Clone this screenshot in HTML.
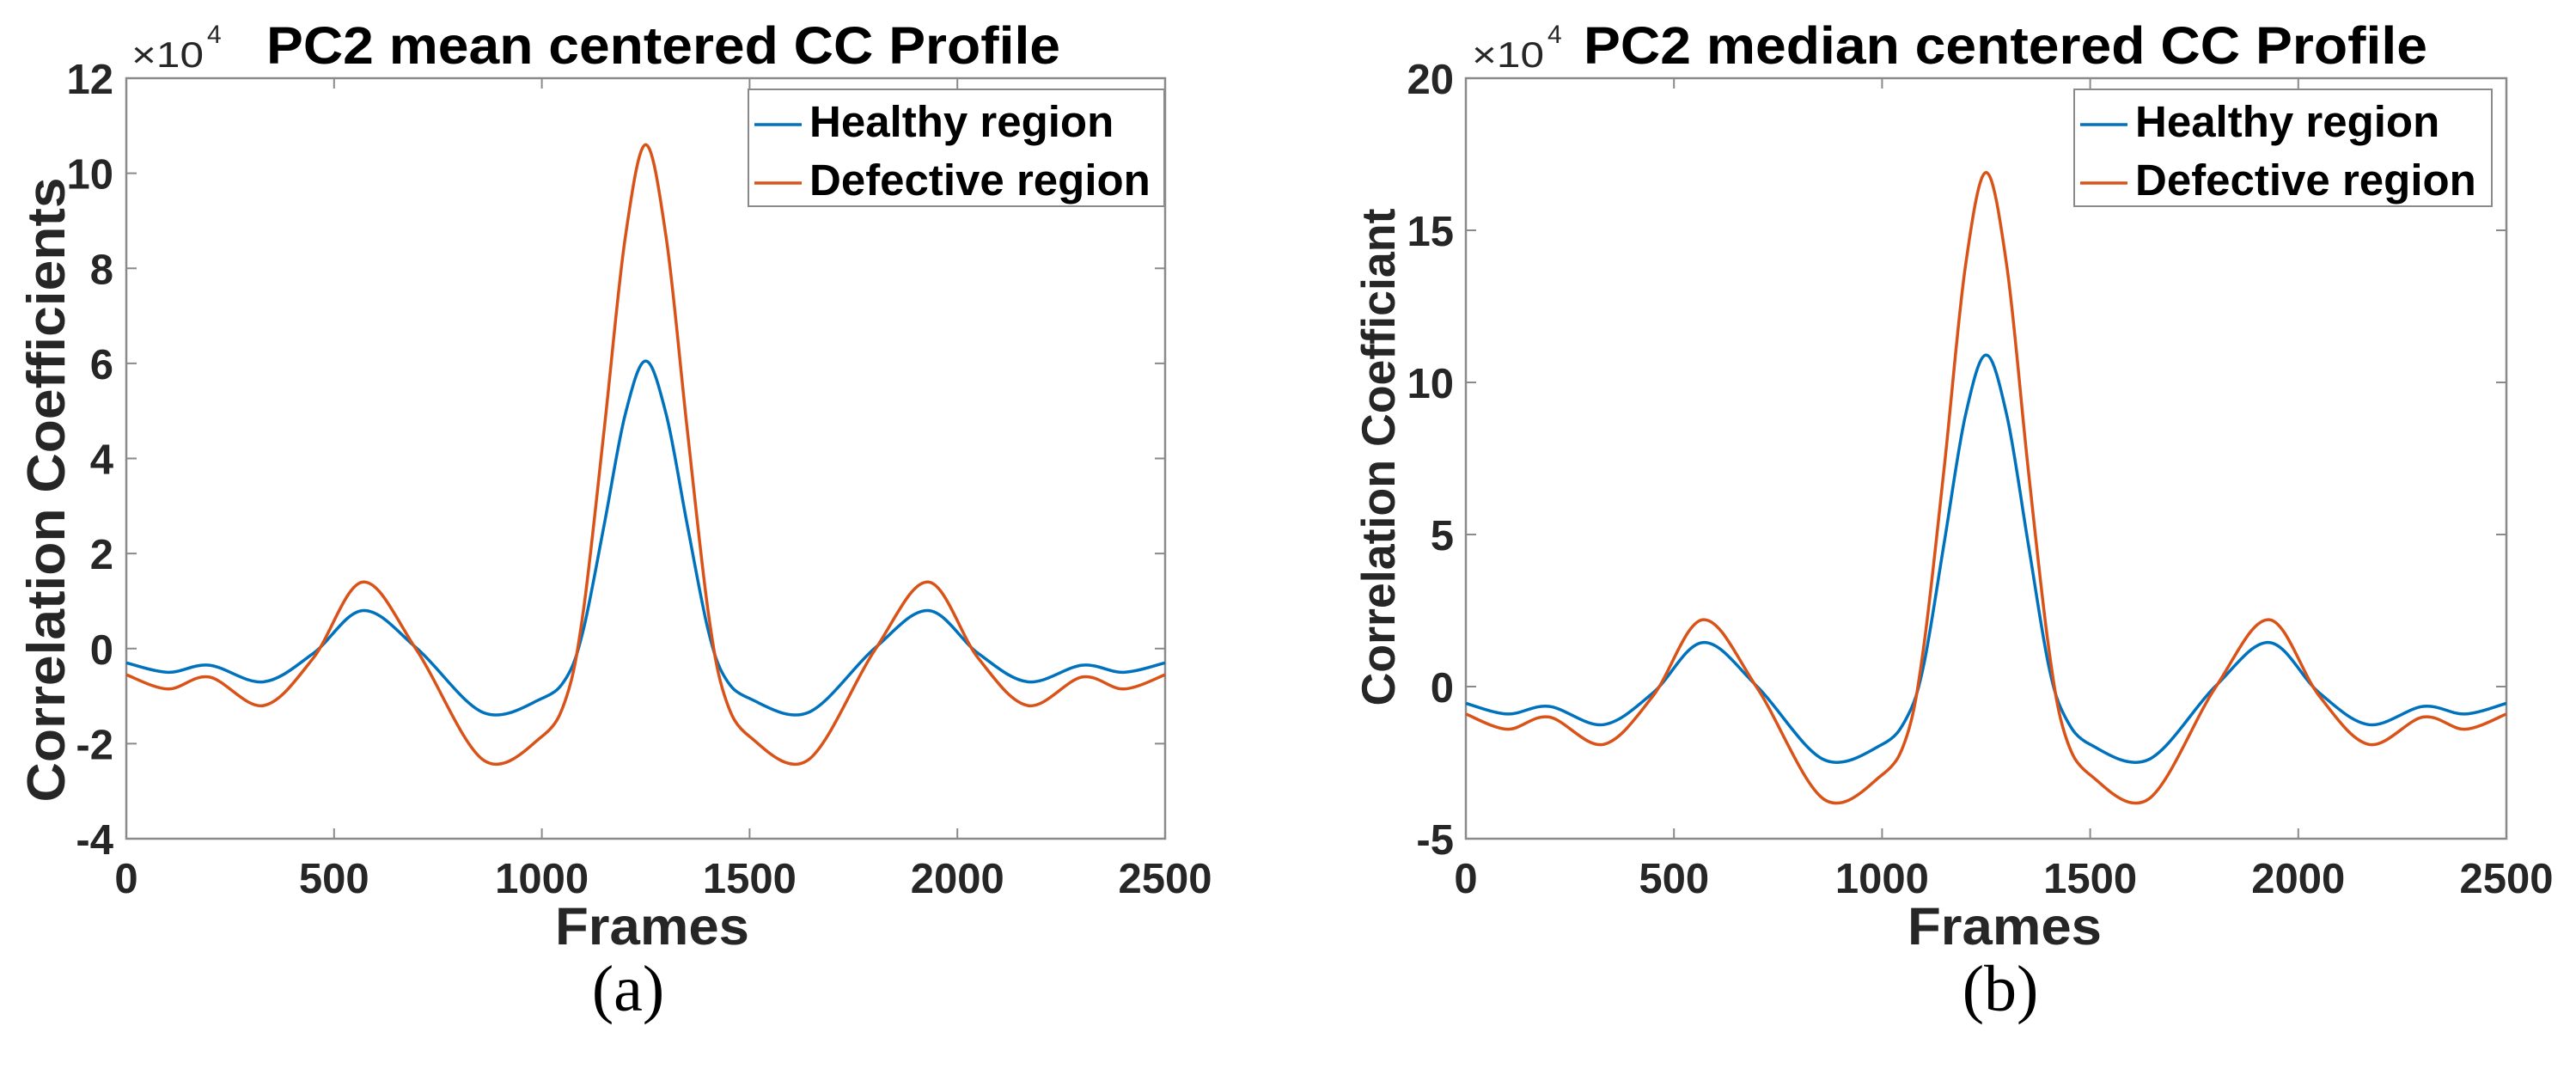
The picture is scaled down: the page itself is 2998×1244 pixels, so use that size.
<!DOCTYPE html>
<html><head><meta charset="utf-8"><style>
html,body{margin:0;padding:0;background:#fff;}
svg{display:block;font-family:"Liberation Sans",Arial,sans-serif;}
</style></head><body>
<svg id="fig" width="2998" height="1244" viewBox="0 0 2998 1244" xmlns="http://www.w3.org/2000/svg"></svg>
<script>
// Shared x data (frames)
const frames = [0,100,200,330,450,570,700,860,1000,1060,1100,1150,1200,1250,1300,1350,1400,1440,1500,1640,1800,1930,2050,2170,2300,2400,2500];
// Panel (a) values (x1e4)
const meanHealthy = [-0.3,-0.5,-0.35,-0.7,-0.1,0.8,0.0,-1.35,-1.05,-0.6,0.4,2.6,4.9,6.05,4.9,2.6,0.4,-0.6,-1.05,-1.35,0.0,0.8,-0.1,-0.7,-0.35,-0.5,-0.3];
const meanDefective = [-0.55,-0.85,-0.6,-1.2,-0.2,1.4,-0.05,-2.35,-1.85,-1.0,0.8,4.6,8.6,10.6,8.6,4.6,0.8,-1.0,-1.85,-2.35,-0.05,1.4,-0.2,-1.2,-0.6,-0.85,-0.55];
// Panel (b) values (x1e4)
const medianHealthy = [-0.55,-0.9,-0.65,-1.25,-0.2,1.45,0,-2.4,-1.9,-1.0,0.7,4.8,8.9,10.9,8.9,4.8,0.7,-1.0,-1.9,-2.4,0,1.45,-0.2,-1.25,-0.65,-0.9,-0.55];
const medianDefective = [-0.9,-1.4,-1.0,-1.9,-0.3,2.2,-0.05,-3.7,-2.9,-1.6,1.3,7.3,13.8,16.9,13.8,7.3,1.3,-1.6,-2.9,-3.7,-0.05,2.2,-0.3,-1.9,-1.0,-1.4,-0.9];
const xTicks = [0,500,1000,1500,2000,2500];
const yTicksA = [-4,-2,0,2,4,6,8,10,12];
const yTicksB = [-5,0,5,10,15,20];

const NS="http://www.w3.org/2000/svg";
const svg=document.getElementById('fig');
function mk(tag,attrs,parent,text){const e=document.createElementNS(NS,tag);for(const k in attrs)e.setAttribute(k,attrs[k]);if(text!==undefined)e.textContent=text;(parent||svg).appendChild(e);return e;}

function smoothPath(pts){
  let d='M'+pts[0][0].toFixed(1)+','+pts[0][1].toFixed(1);
  for(let i=0;i<pts.length-1;i++){
    const p0=pts[Math.max(0,i-1)],p1=pts[i],p2=pts[i+1],p3=pts[Math.min(pts.length-1,i+2)];
    const c1=[p1[0]+(p2[0]-p0[0])/6,p1[1]+(p2[1]-p0[1])/6];
    const c2=[p2[0]-(p3[0]-p1[0])/6,p2[1]-(p3[1]-p1[1])/6];
    d+=' C'+c1[0].toFixed(1)+','+c1[1].toFixed(1)+' '+c2[0].toFixed(1)+','+c2[1].toFixed(1)+' '+p2[0].toFixed(1)+','+p2[1].toFixed(1);
  }
  return d;
}

function panel(o){
  const g=mk('g',{});
  
  
  const sx=v=>o.x0+(v-0)/(2500-0)*(o.x1-o.x0);
  const sy=v=>o.yb-(v-o.ymin)/(o.ymax-o.ymin)*(o.yb-o.yt);
  const box=mk('rect',{x:o.x0,y:o.yt,width:o.x1-o.x0,height:o.yb-o.yt,fill:'none',stroke:'#8a8a8a','stroke-width':2.5},g);
  
  
  xTicks.forEach(t=>{
    const x=sx(t);
    mk('line',{x1:x,y1:o.yb,x2:x,y2:o.yb-12,stroke:'#8a8a8a','stroke-width':2},g);
    mk('line',{x1:x,y1:o.yt,x2:x,y2:o.yt+12,stroke:'#8a8a8a','stroke-width':2},g);
    const tl=mk('text',{x:x,y:1039,'font-size':49,'font-weight':'bold','text-anchor':'middle',fill:'#262626'},g,String(t));
    
    
  });
  o.yTicks.forEach(t=>{
    const y=sy(t);
    mk('line',{x1:o.x0,y1:y,x2:o.x0+12,y2:y,stroke:'#8a8a8a','stroke-width':2},g);
    mk('line',{x1:o.x1,y1:y,x2:o.x1-12,y2:y,stroke:'#8a8a8a','stroke-width':2},g);
    const tl=mk('text',{x:o.tickRight,y:y+18,'font-size':49,'font-weight':'bold','text-anchor':'end',fill:'#262626'},g,String(t));
    
    
  });
  const series=[[o.h,'#0072BD','healthy-line'],[o.d,'#D95319','defective-line']];
  series.forEach(s=>{
    const pts=frames.map((f,i)=>[sx(f),sy(s[0][i])]);
    const p=mk('path',{d:smoothPath(pts),fill:'none',stroke:s[1],'stroke-width':3.5,'stroke-linejoin':'round'},g);
    
    
  });
  const ex=mk('text',{x:o.expX,y:78,'font-size':42,fill:'#262626',textLength:84,lengthAdjust:'spacingAndGlyphs'},g,'×10');
  
  
  mk('text',{x:o.expX+88,y:50,'font-size':30,fill:'#262626'},g,'4');
  const ti=mk('text',{x:o.titleX,y:74,'font-size':61,'font-weight':'bold',fill:'#000',textLength:o.titleW,lengthAdjust:'spacingAndGlyphs'},g,o.title);
  
  
  const yl=mk('text',{x:0,y:0,'font-size':o.ylFont,'font-weight':'bold','text-anchor':'middle',fill:'#262626',textLength:o.ylLen,lengthAdjust:'spacingAndGlyphs',transform:'translate('+o.ylX+','+o.ylY+') rotate(-90)'},g,o.ylabel);
  
  
  const xl=mk('text',{x:o.xlX,y:1099,'font-size':61,'font-weight':'bold','text-anchor':'middle',fill:'#262626',textLength:226,lengthAdjust:'spacingAndGlyphs'},g,'Frames');
  
  
  const cp=mk('text',{x:o.capX,y:1176,'font-size':76,'text-anchor':'middle',fill:'#000','font-family':'"Liberation Serif",serif'},g,o.cap);
  
  
  const lg=mk('g',{},g);
  
  
  mk('rect',{x:o.lgX,y:104,width:o.lgW,height:136,fill:'#fff',stroke:'#8a8a8a','stroke-width':2},lg);
  [['Healthy region','#0072BD',159,'legend-entry-healthy'],['Defective region','#D95319',227,'legend-entry-defective']].forEach(e=>{
    const eg=mk('g',{},lg);
    
    
    mk('line',{x1:o.lgX+7,y1:e[2]-14,x2:o.lgX+62,y2:e[2]-14,stroke:e[1],'stroke-width':3.5},eg);
    mk('text',{x:o.lgX+71,y:e[2],'font-size':51,'font-weight':'bold',fill:'#000'},eg,e[0]);
  });
}

panel({name:'panel-a-mean',x0:147,x1:1356,yt:91,yb:976,ymin:-4,ymax:12,yTicks:yTicksA,h:meanHealthy,d:meanDefective,
  tickRight:132,expX:153,title:'PC2 mean centered CC Profile',titleX:310,titleW:924,
  ylabel:'Correlation Coefficients',ylFont:62,ylLen:727,ylX:75,ylY:570,xlX:759,cap:'(a)',capX:731,lgX:871,lgW:484});
panel({name:'panel-b-median',x0:1706,x1:2917,yt:91,yb:976,ymin:-5,ymax:20,yTicks:yTicksB,h:medianHealthy,d:medianDefective,
  tickRight:1692,expX:1713,title:'PC2 median centered CC Profile',titleX:1843,titleW:982,
  ylabel:'Correlation Coefficiant',ylFont:55,ylLen:579,ylX:1623,ylY:532,xlX:2333,cap:'(b)',capX:2328,lgX:2414,lgW:486});
</script>
</body></html>
